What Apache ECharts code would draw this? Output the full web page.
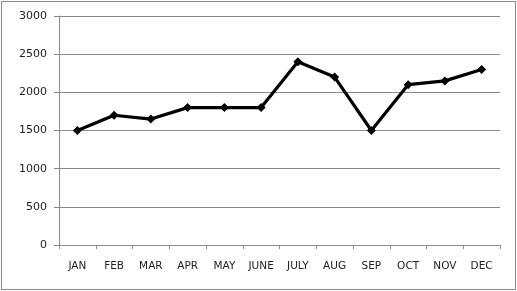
<!DOCTYPE html>
<html><head><meta charset="utf-8">
<script src="https://cdn.jsdelivr.net/npm/echarts@6/dist/echarts.min.js"></script>
<style>html,body{margin:0;padding:0;background:#fff}#c{width:517px;height:291px}
#frame{position:absolute;left:1px;top:1px;width:513px;height:287px;border:1px solid #8a8a8a;pointer-events:none}</style>
</head><body><div id="c"></div><div id="frame"></div>
<script>
const categories = ['JAN','FEB','MAR','APR','MAY','JUNE','JULY','AUG','SEP','OCT','NOV','DEC'];
const values = [1500,1700,1650,1800,1800,1800,2400,2200,1500,2100,2150,2300];
const chart = echarts.init(document.getElementById('c'));
chart.setOption({
  animation:false,
  grid:{left:59,right:17,top:16,bottom:46},
  xAxis:{type:'category',data:categories,boundaryGap:true,
    axisLine:{lineStyle:{color:'#8a8a8a',width:1}},
    axisTick:{show:true,alignWithLabel:false,length:4,lineStyle:{color:'#8a8a8a'}},
    axisLabel:{color:'#222',fontFamily:'DejaVu Sans',fontSize:10.5,margin:16,interval:0}},
  yAxis:{type:'value',min:0,max:3000,interval:500,
    axisLine:{show:true,lineStyle:{color:'#8a8a8a',width:1}},
    axisTick:{show:true,length:5,inside:false,lineStyle:{color:'#8a8a8a'}},
    splitLine:{lineStyle:{color:'#8a8a8a',width:1}},
    axisLabel:{color:'#222',fontFamily:'DejaVu Sans',fontSize:11,margin:12,formatter:v=>String(v)}},
  series:[{type:'line',data:values,symbol:'diamond',symbolSize:9,
    lineStyle:{color:'#000',width:3.2},itemStyle:{color:'#000'}}]
});
</script></body></html>
